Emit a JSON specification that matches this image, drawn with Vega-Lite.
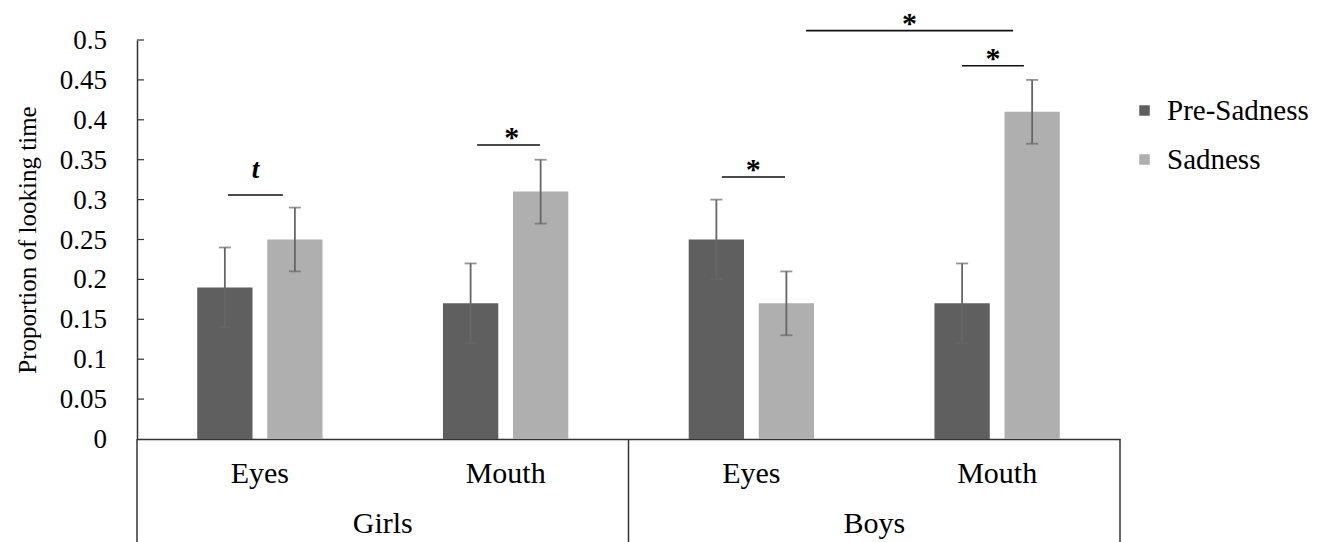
{
  "$schema": "https://vega.github.io/schema/vega-lite/v6.json",
  "width": 983,
  "height": 399,
  "autosize": {"type": "none"},
  "padding": {"left": 137, "top": 40, "right": 205, "bottom": 103},
  "background": "white",
  "config": {
    "view": {"stroke": null},
    "font": "Liberation Serif",
    "text": {"font": "Liberation Serif"},
    "axisY": {
      "grid": false, "domainColor": "#333333", "domainWidth": 1.5, "ticks": false, "labels": false,
      "titleFont": "Liberation Serif", "titleFontSize": 25, "titleFontWeight": "normal", "titleColor": "#000000", "titlePadding": 97
    }
  },
  "datasets": {
    "bars": [
      {"gender": "Girls", "region": "Eyes", "group": "Girls Eyes", "condition": "Pre-Sadness", "value": 0.19, "lo": 0.14, "hi": 0.24},
      {"gender": "Girls", "region": "Eyes", "group": "Girls Eyes", "condition": "Sadness", "value": 0.25, "lo": 0.21, "hi": 0.29},
      {"gender": "Girls", "region": "Mouth", "group": "Girls Mouth", "condition": "Pre-Sadness", "value": 0.17, "lo": 0.12, "hi": 0.22},
      {"gender": "Girls", "region": "Mouth", "group": "Girls Mouth", "condition": "Sadness", "value": 0.31, "lo": 0.27, "hi": 0.35},
      {"gender": "Boys", "region": "Eyes", "group": "Boys Eyes", "condition": "Pre-Sadness", "value": 0.25, "lo": 0.20, "hi": 0.30},
      {"gender": "Boys", "region": "Eyes", "group": "Boys Eyes", "condition": "Sadness", "value": 0.17, "lo": 0.13, "hi": 0.21},
      {"gender": "Boys", "region": "Mouth", "group": "Boys Mouth", "condition": "Pre-Sadness", "value": 0.17, "lo": 0.12, "hi": 0.22},
      {"gender": "Boys", "region": "Mouth", "group": "Boys Mouth", "condition": "Sadness", "value": 0.41, "lo": 0.37, "hi": 0.45}
    ],
    "groups": [
      {"group": "Girls Eyes", "region": "Eyes"},
      {"group": "Girls Mouth", "region": "Mouth"},
      {"group": "Boys Eyes", "region": "Eyes"},
      {"group": "Boys Mouth", "region": "Mouth"}
    ],
    "genders": [
      {"gender": "Girls", "pos": 1},
      {"gender": "Boys", "pos": 3}
    ],
    "dividers": [{"pos": 0}, {"pos": 2}, {"pos": 4}],
    "yticks": [{"v": 0}, {"v": 0.05}, {"v": 0.1}, {"v": 0.15}, {"v": 0.2}, {"v": 0.25}, {"v": 0.3}, {"v": 0.35}, {"v": 0.4}, {"v": 0.45}, {"v": 0.5}],
    "sig": [
      {"x1": 0.370, "x2": 0.594, "xm": 0.482, "y": 0.3058, "label": "t"},
      {"x1": 1.384, "x2": 1.640, "xm": 1.525, "y": 0.3684, "label": "*"},
      {"x1": 2.380, "x2": 2.637, "xm": 2.508, "y": 0.3283, "label": "*"},
      {"x1": 3.357, "x2": 3.609, "xm": 3.483, "y": 0.4678, "label": "*"},
      {"x1": 2.722, "x2": 3.565, "xm": 3.143, "y": 0.5117, "label": "*"}
    ]
  },
  "layer": [
    {
      "layer": [
        {
          "data": {"name": "bars"},
          "mark": {"type": "bar"},
          "encoding": {
            "x": {"field": "group", "type": "nominal", "sort": ["Girls Eyes", "Girls Mouth", "Boys Eyes", "Boys Mouth"],
                  "scale": {"paddingInner": 0.49, "paddingOuter": 0.245},
                  "axis": {"title": null, "labels": false, "ticks": false, "domain": true, "domainColor": "#333333", "domainWidth": 1.5}},
            "xOffset": {"field": "condition", "type": "nominal", "sort": ["Pre-Sadness", "Sadness"],
                        "scale": {"paddingInner": 0.21, "paddingOuter": 0}},
            "y": {"field": "value", "type": "quantitative", "title": "Proportion of looking time",
                  "scale": {"domain": [0, 0.5], "nice": false, "zero": true}},
            "color": {"field": "condition", "type": "nominal", "sort": ["Pre-Sadness", "Sadness"],
                      "scale": {"domain": ["Pre-Sadness", "Sadness"], "range": ["#5f5f5f", "#afafaf"]},
                      "legend": {"title": null, "orient": "none", "legendX": 993, "legendY": 56,
                                 "symbolType": "square", "symbolSize": 110, "symbolStrokeWidth": 0,
                                 "labelFont": "Liberation Serif", "labelFontSize": 29, "labelColor": "#000000",
                                 "labelOffset": 8, "rowPadding": 19}}
          }
        },
        {
          "data": {"name": "bars"},
          "mark": {"type": "rule", "color": "#666666", "strokeWidth": 1.8},
          "encoding": {
            "x": {"field": "group", "type": "nominal", "sort": ["Girls Eyes", "Girls Mouth", "Boys Eyes", "Boys Mouth"],
                  "scale": {"paddingInner": 0.49, "paddingOuter": 0.245}},
            "xOffset": {"field": "condition", "type": "nominal", "sort": ["Pre-Sadness", "Sadness"],
                        "scale": {"paddingInner": 0.21, "paddingOuter": 0}},
            "y": {"field": "lo", "type": "quantitative", "title": "Proportion of looking time"},
            "y2": {"field": "hi"}
          }
        },
        {
          "data": {"name": "bars"},
          "mark": {"type": "tick", "color": "#666666", "thickness": 1.8, "size": 12, "orient": "horizontal"},
          "encoding": {
            "x": {"field": "group", "type": "nominal", "sort": ["Girls Eyes", "Girls Mouth", "Boys Eyes", "Boys Mouth"],
                  "scale": {"paddingInner": 0.49, "paddingOuter": 0.245}},
            "xOffset": {"field": "condition", "type": "nominal", "sort": ["Pre-Sadness", "Sadness"],
                        "scale": {"paddingInner": 0.21, "paddingOuter": 0}},
            "y": {"field": "lo", "type": "quantitative", "title": "Proportion of looking time"}
          }
        },
        {
          "data": {"name": "bars"},
          "mark": {"type": "tick", "color": "#666666", "thickness": 1.8, "size": 12, "orient": "horizontal"},
          "encoding": {
            "x": {"field": "group", "type": "nominal", "sort": ["Girls Eyes", "Girls Mouth", "Boys Eyes", "Boys Mouth"],
                  "scale": {"paddingInner": 0.49, "paddingOuter": 0.245}},
            "xOffset": {"field": "condition", "type": "nominal", "sort": ["Pre-Sadness", "Sadness"],
                        "scale": {"paddingInner": 0.21, "paddingOuter": 0}},
            "y": {"field": "hi", "type": "quantitative", "title": "Proportion of looking time"}
          }
        },
        {
          "data": {"name": "groups"},
          "mark": {"type": "text", "font": "Liberation Serif", "fontSize": 30, "color": "#000000", "baseline": "alphabetic", "align": "center"},
          "encoding": {
            "x": {"field": "group", "type": "nominal", "sort": ["Girls Eyes", "Girls Mouth", "Boys Eyes", "Boys Mouth"],
                  "scale": {"paddingInner": 0.49, "paddingOuter": 0.245}},
            "y": {"datum": -0.0551, "type": "quantitative", "title": "Proportion of looking time"},
            "text": {"field": "region"}
          }
        }
      ]
    },
    {
      "layer": [
        {
          "data": {"name": "sig"},
          "mark": {"type": "rule", "color": "#111111", "strokeWidth": 1.6},
          "encoding": {
            "x": {"field": "x1", "type": "quantitative", "scale": {"domain": [0, 4], "nice": false, "zero": false}, "axis": null},
            "x2": {"field": "x2"},
            "y": {"field": "y", "type": "quantitative", "title": "Proportion of looking time"}
          }
        },
        {
          "data": {"name": "yticks"},
          "transform": [{"filter": "datum.v > 0"}],
          "mark": {"type": "rule", "color": "#333333", "strokeWidth": 1.2},
          "encoding": {
            "x": {"datum": 0, "type": "quantitative", "scale": {"domain": [0, 4], "nice": false, "zero": false}, "axis": null},
            "x2": {"datum": 0.0285},
            "y": {"field": "v", "type": "quantitative", "title": "Proportion of looking time"}
          }
        },
        {
          "data": {"name": "yticks"},
          "mark": {"type": "text", "font": "Liberation Serif", "fontSize": 27, "color": "#000000", "align": "right", "baseline": "middle", "dx": -30, "dy": 1},
          "encoding": {
            "x": {"datum": 0, "type": "quantitative", "scale": {"domain": [0, 4], "nice": false, "zero": false}, "axis": null},
            "y": {"field": "v", "type": "quantitative", "title": "Proportion of looking time"},
            "text": {"field": "v", "type": "quantitative", "format": ".2~f"}
          }
        },
        {
          "data": {"name": "dividers"},
          "mark": {"type": "rule", "color": "#333333", "strokeWidth": 1.5},
          "encoding": {
            "x": {"field": "pos", "type": "quantitative", "scale": {"domain": [0, 4], "nice": false, "zero": false}, "axis": null},
            "y": {"datum": 0, "type": "quantitative", "title": "Proportion of looking time"},
            "y2": {"datum": -0.135}
          }
        },
        {
          "data": {"name": "genders"},
          "mark": {"type": "text", "font": "Liberation Serif", "fontSize": 30, "color": "#000000", "baseline": "alphabetic", "align": "center"},
          "encoding": {
            "x": {"field": "pos", "type": "quantitative", "scale": {"domain": [0, 4], "nice": false, "zero": false}, "axis": null},
            "y": {"datum": -0.1178, "type": "quantitative", "title": "Proportion of looking time"},
            "text": {"field": "gender"}
          }
        },
        {
          "data": {"name": "sig"},
          "transform": [{"filter": "datum.label === '*'"}],
          "mark": {"type": "text", "font": "Liberation Serif", "fontSize": 30, "fontWeight": "bold", "color": "#000000", "baseline": "alphabetic", "align": "center", "dy": 2},
          "encoding": {
            "x": {"field": "xm", "type": "quantitative", "scale": {"domain": [0, 4], "nice": false, "zero": false}, "axis": null},
            "y": {"field": "y", "type": "quantitative", "title": "Proportion of looking time"},
            "text": {"field": "label"}
          }
        },
        {
          "data": {"name": "sig"},
          "transform": [{"filter": "datum.label === 't'"}],
          "mark": {"type": "text", "font": "Liberation Serif", "fontSize": 27, "fontWeight": "bold", "fontStyle": "italic", "color": "#000000", "baseline": "alphabetic", "align": "center", "dy": -17},
          "encoding": {
            "x": {"field": "xm", "type": "quantitative", "scale": {"domain": [0, 4], "nice": false, "zero": false}, "axis": null},
            "y": {"field": "y", "type": "quantitative", "title": "Proportion of looking time"},
            "text": {"field": "label"}
          }
        }
      ]
    }
  ],
  "resolve": {"scale": {"x": "independent"}}
}
